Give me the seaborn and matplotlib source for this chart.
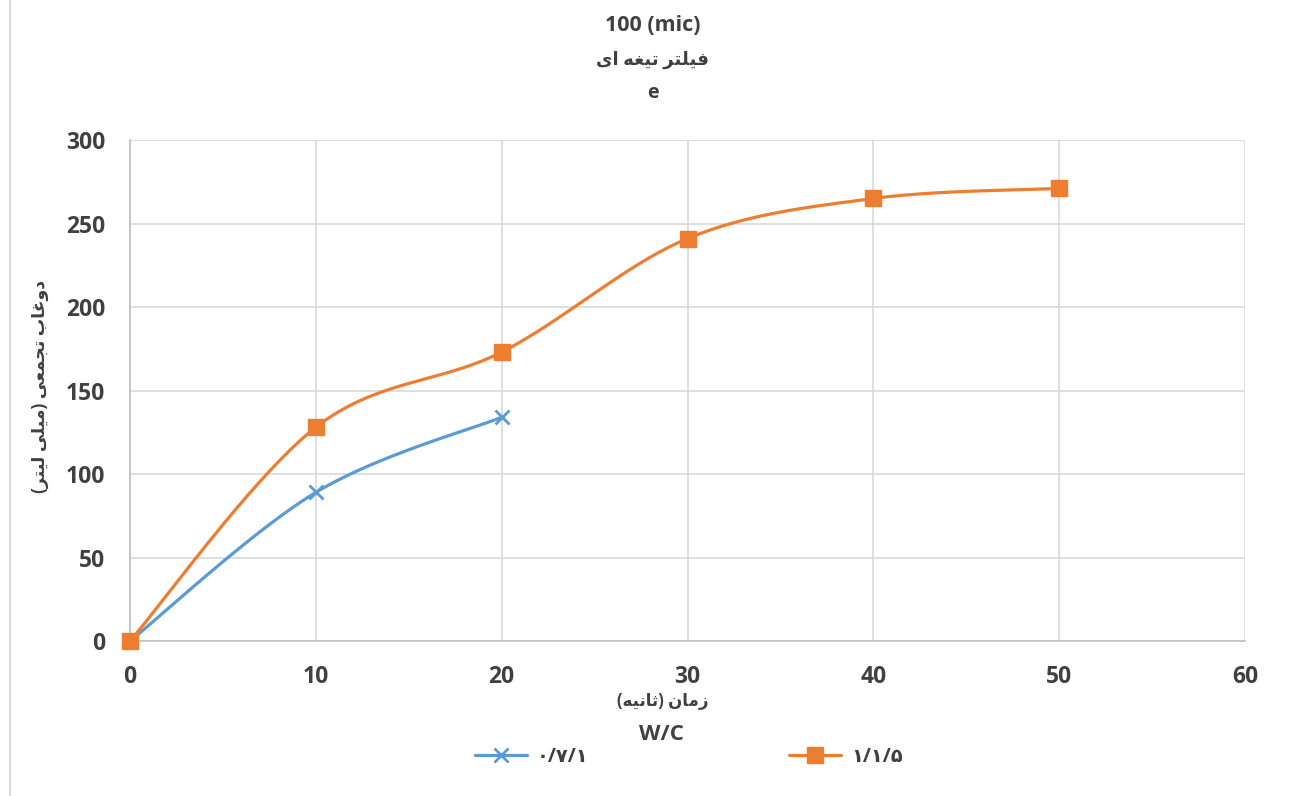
import numpy as np
import pandas as pd
import matplotlib
matplotlib.use("Agg")
import matplotlib.pyplot as plt
from matplotlib.lines import Line2D
import seaborn as sns

# data
time_blue = [0, 10, 20]
vol_blue = [0, 89, 134]
time_orange = [0, 10, 20, 30, 40, 50]
vol_orange = [0, 128, 173, 241, 265, 271]

# labels (Arabic script pre-shaped into presentation forms, visual order)
title_1 = "100 (mic)"
title_2 = "\uFEEF\uFE8D \uFEEA\uFED0\uFEF4\uFE97 \uFEAE\uFE98\uFEE0\uFEF4\uFED3"
title_3 = "e"
x_label = "(\uFEEA\uFEF4\uFEE7\uFE8E\uFE9B) \uFEE5\uFE8E\uFEE3\uFEAF"
y_label = ("(\uFEAE\uFE98\uFEF4\uFEDF \uFEF0\uFEE0\uFEF4\uFEE3) "
           "\uFEF0\uFECC\uFEE4\uFEA0\uFE97 \uFE8F\uFE8E\uFECF\uFEED\uFEA9")
legend_title = "W/C"
series_names = ["\u06F0/\u06F7/\u06F1", "\u06F1/\u06F1/\u06F5"]

BLUE = "#5B9BD5"
ORANGE = "#ED7D31"
TXT = "#404040"


def smooth(xs, ys, n=40):
    # Excel-like smoothed line: Catmull-Rom style cubic Bezier segments
    pts = np.column_stack([xs, ys]).astype(float)
    p = np.vstack([pts[0], pts, pts[-1]])
    out = []
    t = np.linspace(0, 1, n)[:, None]
    for i in range(1, len(p) - 2):
        p0, p1, p2, p3 = p[i - 1], p[i], p[i + 1], p[i + 2]
        c1 = p1 + (p2 - p0) / 6
        c2 = p2 - (p3 - p1) / 6
        seg = (1 - t) ** 3 * p1 + 3 * (1 - t) ** 2 * t * c1 + 3 * (1 - t) * t ** 2 * c2 + t ** 3 * p2
        out.append(seg if i == 1 else seg[1:])
    s = np.vstack(out)
    return pd.DataFrame({"x": s[:, 0], "y": s[:, 1]})


sns.set_style("white")
plt.rcParams["font.family"] = ["Open Sans", "DejaVu Sans"]

fig = plt.figure(figsize=(12.9, 7.96), dpi=100)
ax = fig.add_axes([0.1008, 0.1947, 0.8643, 0.6294])

for xs, ys, col in [(time_blue, vol_blue, BLUE), (time_orange, vol_orange, ORANGE)]:
    curve = smooth(xs, ys)
    sns.lineplot(data=curve, x="x", y="y", sort=False, color=col, lw=2.3, ax=ax, zorder=3)

ax.plot(time_blue, vol_blue, ls="none", marker="x", ms=10, mew=2, color=BLUE, zorder=4, clip_on=False)
ax.plot(time_orange, vol_orange, ls="none", marker="s", ms=11.5, color=ORANGE, zorder=4, clip_on=False)

ax.set_xlim(0, 60)
ax.set_ylim(0, 300)
ax.set_xticks(range(0, 61, 10))
ax.set_yticks(range(0, 301, 50))
ax.grid(True, color="#d9d9d9", lw=1.2)
ax.set_axisbelow(True)
for s in ["top", "right"]:
    ax.spines[s].set_visible(False)
for s in ["left", "bottom"]:
    ax.spines[s].set_color("#bfbfbf")
    ax.spines[s].set_linewidth(1.2)
ax.tick_params(length=0, labelsize=16.5, colors=TXT)
ax.tick_params(axis="x", pad=17)
ax.tick_params(axis="y", pad=18)
for lab in ax.get_xticklabels() + ax.get_yticklabels():
    lab.set_fontweight("bold")
ax.set_xlabel("")
ax.set_ylabel("")

fig.text(0.506, 0.968, title_1, ha="center", va="center", fontsize=15.5, fontweight="bold", color=TXT)
fig.text(0.506, 0.925, title_2, ha="center", va="center", fontsize=13, fontweight="bold", color=TXT)
fig.text(0.506, 0.883, title_3, ha="center", va="center", fontsize=14, fontweight="bold", color=TXT)
fig.text(0.514, 0.119, x_label, ha="center", va="center", fontsize=12, fontweight="bold", color=TXT)
fig.text(0.513, 0.077, legend_title, ha="center", va="center", fontsize=16, fontweight="bold", color=TXT)
fig.text(0.031, 0.514, y_label, ha="center", va="center", rotation=90, fontsize=12.5,
         fontweight="bold", color=TXT)

handles = [
    Line2D([], [], color=BLUE, lw=2.3, marker="x", ms=10, mew=2),
    Line2D([], [], color=ORANGE, lw=2.3, marker="s", ms=11.5),
]
leg = fig.legend(handles, series_names, loc="center", bbox_to_anchor=(0.534, 0.049), ncol=2,
                 frameon=False, handlelength=2.7, columnspacing=10.3, handletextpad=0.5,
                 prop={"size": 14, "weight": "bold"})
for t in leg.get_texts():
    t.set_color(TXT)

fig.add_artist(Line2D([0.008, 0.008], [0.0, 1.0], color="#d9d9d9", lw=1.5, transform=fig.transFigure))

fig.savefig("out.png", dpi=100, facecolor="white")
